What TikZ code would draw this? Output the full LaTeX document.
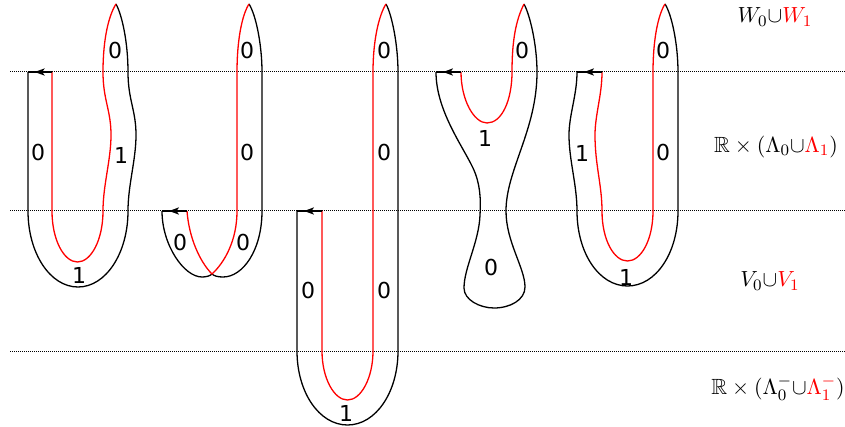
\documentclass[tikz,border=0pt]{standalone}
\usepackage{amssymb}
\usepackage{fontspec}
\newfontfamily\lblfont{DejaVu Sans}
\usetikzlibrary{arrows.meta,decorations.markings}
\begin{document}
\begin{tikzpicture}[x=0.5pt,y=-0.5pt,line width=0.65pt,
  blk/.style={draw=black},
  rd/.style={draw=red},
  lev/.style={draw=black,line width=0.5pt,dash pattern=on 0.5pt off 0.5pt},
  num/.style={font=\lblfont\fontsize{11}{13}\selectfont,inner sep=0pt},
  mlab/.style={font=\fontsize{11}{13}\selectfont,inner sep=0pt},
  orient/.style={draw=black,postaction={decorate},decoration={markings,
    mark=at position 0.72 with {\arrow{Stealth[length=5pt,width=3.6pt,inset=1.3pt]}}}}]
\useasboundingbox (0,0) rectangle (845,427);
% levels
\draw[lev] (10,72) -- (845,72);
\draw[lev] (10,211) -- (845,211);
\draw[lev] (10,351) -- (845,351);
% ---------- figure 1
\coordinate (r1) at (52,72); \coordinate (b1) at (28,72); \coordinate (t1) at (116,4);
\draw[blk] (b1) -- (28,211) .. controls (28,253) and (50,287) .. (78,287)
  .. controls (106,287) and (128,253) .. (128,211)
  .. controls (128,185) and (136,160) .. (136,135)
  .. controls (136,110) and (128,100) .. (128,72)
  .. controls (128,42) and (122,15) .. (t1);
\draw[rd] (r1) -- (52,211) .. controls (52,240) and (64,262) .. (77.5,262)
  .. controls (91,262) and (103,240) .. (103,211)
  .. controls (103,185) and (111,160) .. (111,135)
  .. controls (111,110) and (103,100) .. (103,72)
  .. controls (103,38) and (109,15) .. (t1);
\draw[orient] (r1) -- (b1);
\node[num] (l1a) at (115,50) {0};
\node[num] (l1b) at (38,152) {0};
\node[num] (l1c) at (121,155) {1};
\node[num] (l1d) at (79,275) {1};
% ---------- figure 2
\coordinate (r2) at (187,211); \coordinate (b2) at (162,211); \coordinate (t2) at (249,4);
\coordinate (c2) at (212,274);
\draw[blk] (b2) .. controls (162,245) and (184,277) .. (202,277)
  .. controls (206,277) and (210,276) .. (c2)
  .. controls (214,276) and (218,277) .. (223,277)
  .. controls (243,277) and (262,250) .. (262,211) -- (262,72)
  .. controls (262,45) and (256,15) .. (t2);
\draw[rd] (r2) .. controls (189,238) and (200,262) .. (c2)
  .. controls (225,262) and (237,240) .. (237,211) -- (237,72)
  .. controls (237,40) and (242,15) .. (t2);
\draw[orient] (r2) -- (b2);
\node[num] (l2a) at (247,50) {0};
\node[num] (l2b) at (247,152) {0};
\node[num] (l2c) at (180,242) {0};
\node[num] (l2d) at (243,242) {0};
% ---------- figure 3
\coordinate (r3) at (322,211); \coordinate (b3) at (297,211); \coordinate (t3) at (386,4);
\draw[blk] (b3) -- (297,351) .. controls (297,392) and (319,425) .. (347.5,425)
  .. controls (376,425) and (398,392) .. (398,351) -- (398,72)
  .. controls (398,45) and (392,15) .. (t3);
\draw[rd] (r3) -- (322,351) .. controls (322,378) and (334,400) .. (347.5,400)
  .. controls (361,400) and (373,378) .. (373,351) -- (373,72)
  .. controls (373,40) and (379,15) .. (t3);
\draw[orient] (r3) -- (b3);
\node[num] (l3a) at (384,50) {0};
\node[num] (l3b) at (384,152) {0};
\node[num] (l3c) at (308,290) {0};
\node[num] (l3d) at (384,290) {0};
\node[num] (l3e) at (346,413) {1};
% ---------- figure 4
\coordinate (r4) at (461,72); \coordinate (b4) at (436,72); \coordinate (t4) at (524,4);
\draw[blk] (b4) .. controls (436,110) and (462,145) .. (473,168)
  .. controls (480,183) and (481,198) .. (480,215)
  .. controls (479,242) and (464,268) .. (464,288)
  .. controls (464,300) and (480,308) .. (494,308)
  .. controls (510,308) and (525,300) .. (525,287)
  .. controls (525,268) and (506,242) .. (506,211)
  .. controls (506,170) and (537,130) .. (537,72)
  .. controls (537,45) and (530,15) .. (t4);
\draw[rd] (r4) .. controls (461,100) and (474,123) .. (487,123)
  .. controls (502,123) and (512,100) .. (512,72)
  .. controls (512,40) and (516,20) .. (t4);
\draw[orient] (r4) -- (b4);
\node[num] (l4a) at (522,50) {0};
\node[num] (l4b) at (485,138) {1};
\node[num] (l4c) at (491,267) {0};
% ---------- figure 5
\coordinate (r5) at (602,72); \coordinate (b5) at (577,72); \coordinate (t5) at (665,4);
\draw[blk] (b5) .. controls (577,95) and (569,115) .. (569,135)
  .. controls (569,160) and (577,185) .. (577,211)
  .. controls (577,253) and (599,286) .. (627.5,286)
  .. controls (656,286) and (678,253) .. (678,211) -- (678,72)
  .. controls (678,45) and (672,15) .. (t5);
\draw[rd] (r5) .. controls (602,95) and (595,115) .. (595,135)
  .. controls (595,165) and (602,185) .. (602,211)
  .. controls (602,240) and (614,261) .. (627.5,261)
  .. controls (641,261) and (653,240) .. (653,211) -- (653,72)
  .. controls (653,40) and (658,15) .. (t5);
\draw[orient] (r5) -- (b5);
\node[num] (l5a) at (663,50) {0};
\node[num] (l5b) at (663,152) {0};
\node[num] (l5c) at (582,153) {1};
\node[num] (l5d) at (626,277) {1};
% ---------- right labels
\node[mlab] (m1) at (775,17) {$W_0{\cup}\textcolor{red}{W_1}$};
\node[mlab] (m2) at (776,147) {$\mathbb{R}\times(\Lambda_0{\cup}\textcolor{red}{\Lambda_1})$};
\node[mlab] (m3) at (770,281) {$V_0{\cup}\textcolor{red}{V_1}$};
\node[mlab] (m4) at (778,388) {$\mathbb{R}\times(\Lambda_0^-{\cup}\textcolor{red}{\Lambda_1^-})$};
\end{tikzpicture}
\end{document}
